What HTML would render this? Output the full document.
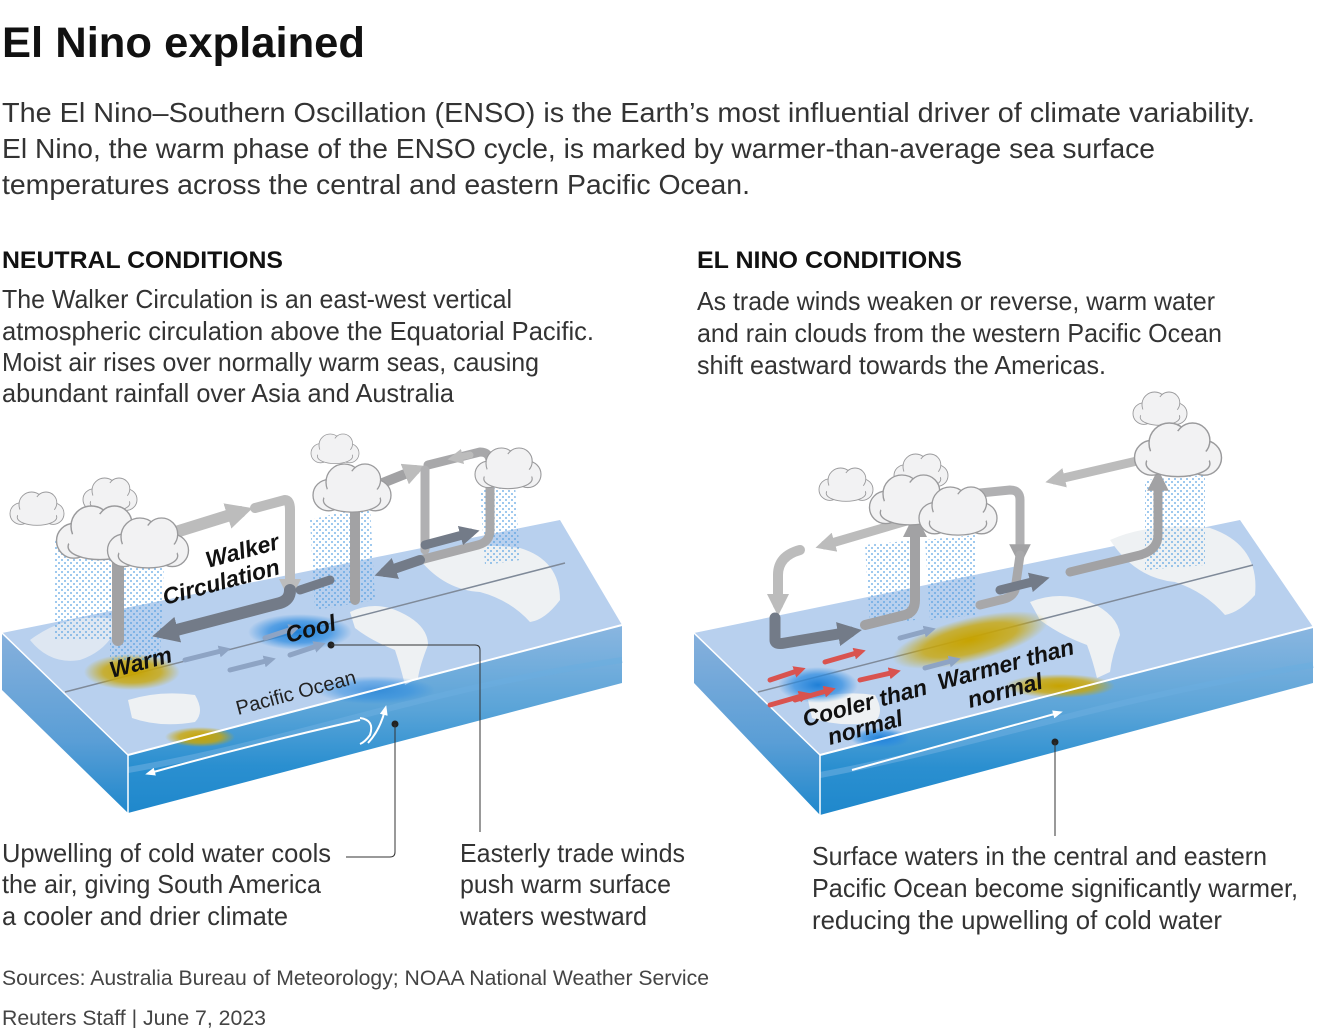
<!DOCTYPE html>
<html><head><meta charset="utf-8"><style>html,body{margin:0;padding:0;background:#fff}svg{display:block}</style></head>
<body>
<svg width="1320" height="1028" viewBox="0 0 1320 1028" xmlns="http://www.w3.org/2000/svg" font-family="Liberation Sans, sans-serif">
<defs>
<linearGradient id="front" x1="0" y1="0" x2="0" y2="1">
<stop offset="0" stop-color="#8ab6e0"/><stop offset="0.45" stop-color="#5aa4d8"/><stop offset="0.75" stop-color="#2a8fd0"/><stop offset="1" stop-color="#1f88cc"/></linearGradient>
<linearGradient id="side" x1="0" y1="0" x2="0" y2="1">
<stop offset="0" stop-color="#86b0dc"/><stop offset="0.6" stop-color="#5a9ed6"/><stop offset="1" stop-color="#1f88cc"/></linearGradient>
<radialGradient id="warm"><stop offset="0" stop-color="#c7a300"/><stop offset="0.6" stop-color="#c9a70a" stop-opacity="0.8"/><stop offset="1" stop-color="#c9a70a" stop-opacity="0"/></radialGradient>
<radialGradient id="cool"><stop offset="0" stop-color="#1f7fd6"/><stop offset="0.6" stop-color="#2a8ae0" stop-opacity="0.7"/><stop offset="1" stop-color="#2a8ae0" stop-opacity="0"/></radialGradient>
<pattern id="rain" width="6" height="6" patternUnits="userSpaceOnUse"><circle cx="2" cy="2" r="1" fill="#4a9ae0"/><circle cx="5" cy="5" r="1" fill="#4a9ae0"/></pattern>
<g id="cloud"><g fill="#f2f2f3" stroke="#9a9a9c" stroke-width="1">
<circle cx="-18" cy="4" r="12"/><circle cx="18" cy="4" r="12"/><circle cx="-6" cy="-6" r="14"/><circle cx="10" cy="-8" r="12"/><ellipse cx="0" cy="8" rx="22" ry="9"/></g>
<ellipse cx="0" cy="4" rx="22" ry="9" fill="#f2f2f3"/><circle cx="-6" cy="-4" r="12" fill="#f2f2f3"/><circle cx="10" cy="-6" r="10" fill="#f2f2f3"/></g>
<marker id="ahd" viewBox="0 0 10 10" refX="5" refY="5" markerWidth="2.2" markerHeight="2.2" orient="auto"><path d="M0,0L10,5L0,10z" fill="#737b88"/></marker>
<marker id="ahl" viewBox="0 0 10 10" refX="5" refY="5" markerWidth="2.2" markerHeight="2.2" orient="auto"><path d="M0,0L10,5L0,10z" fill="#bcbcbc"/></marker>
<marker id="ahm" viewBox="0 0 10 10" refX="5" refY="5" markerWidth="2.4" markerHeight="2.4" orient="auto"><path d="M0,0L10,5L0,10z" fill="#a2a2a4"/></marker>
<marker id="ahw" viewBox="0 0 10 10" refX="5" refY="5" markerWidth="5" markerHeight="5" orient="auto"><path d="M0,1L10,5L0,9z" fill="#fff"/></marker>
<marker id="ahb" viewBox="0 0 10 10" refX="5" refY="5" markerWidth="2.4" markerHeight="2.4" orient="auto"><path d="M0,0L10,5L0,10z" fill="#8ea4c4"/></marker>
<marker id="ahr" viewBox="0 0 10 10" refX="5" refY="5" markerWidth="2.4" markerHeight="2.4" orient="auto"><path d="M0,0L10,5L0,10z" fill="#d9534f"/></marker>
</defs>

<g fill="#111">
<text x="2" y="57" font-size="43" font-weight="bold" textLength="363" lengthAdjust="spacingAndGlyphs">El Nino explained</text>
<g font-size="28" fill="#333">
<text x="2" y="122" textLength="1253" lengthAdjust="spacingAndGlyphs">The El Nino–Southern Oscillation (ENSO) is the Earth’s most influential driver of climate variability.</text>
<text x="2" y="158" textLength="1153" lengthAdjust="spacingAndGlyphs">El Nino, the warm phase of the ENSO cycle, is marked by warmer-than-average sea surface</text>
<text x="2" y="194" textLength="748" lengthAdjust="spacingAndGlyphs">temperatures across the central and eastern Pacific Ocean.</text>
</g>
<text x="2" y="268" font-size="24" font-weight="bold" textLength="281" lengthAdjust="spacingAndGlyphs">NEUTRAL CONDITIONS</text>
<text x="697" y="268" font-size="24" font-weight="bold" textLength="265" lengthAdjust="spacingAndGlyphs">EL NINO CONDITIONS</text>
<g font-size="26" fill="#333">
<text x="2" y="308" textLength="510" lengthAdjust="spacingAndGlyphs">The Walker Circulation is an east-west vertical</text>
<text x="2" y="340" textLength="592" lengthAdjust="spacingAndGlyphs">atmospheric circulation above the Equatorial Pacific.</text>
<text x="2" y="371" textLength="537" lengthAdjust="spacingAndGlyphs">Moist air rises over normally warm seas, causing</text>
<text x="2" y="402" textLength="452" lengthAdjust="spacingAndGlyphs">abundant rainfall over Asia and Australia</text>
<text x="697" y="310" textLength="518" lengthAdjust="spacingAndGlyphs">As trade winds weaken or reverse, warm water</text>
<text x="697" y="342" textLength="525" lengthAdjust="spacingAndGlyphs">and rain clouds from the western Pacific Ocean</text>
<text x="697" y="374" textLength="409" lengthAdjust="spacingAndGlyphs">shift eastward towards the Americas.</text>
<text x="2" y="862" textLength="329" lengthAdjust="spacingAndGlyphs">Upwelling of cold water cools</text>
<text x="2" y="893" textLength="319" lengthAdjust="spacingAndGlyphs">the air, giving South America</text>
<text x="2" y="925" textLength="286" lengthAdjust="spacingAndGlyphs">a cooler and drier climate</text>
<text x="460" y="862" textLength="225" lengthAdjust="spacingAndGlyphs">Easterly trade winds</text>
<text x="460" y="893" textLength="211" lengthAdjust="spacingAndGlyphs">push warm surface</text>
<text x="460" y="925" textLength="187" lengthAdjust="spacingAndGlyphs">waters westward</text>
<text x="812" y="865" textLength="455" lengthAdjust="spacingAndGlyphs">Surface waters in the central and eastern</text>
<text x="812" y="897" textLength="486" lengthAdjust="spacingAndGlyphs">Pacific Ocean become significantly warmer,</text>
<text x="812" y="929" textLength="410" lengthAdjust="spacingAndGlyphs">reducing the upwelling of cold water</text>
</g>
<text x="2" y="985" font-size="21" fill="#444" textLength="707" lengthAdjust="spacingAndGlyphs">Sources: Australia Bureau of Meteorology; NOAA National Weather Service</text>
<text x="2" y="1025" font-size="21" fill="#444" textLength="264" lengthAdjust="spacingAndGlyphs">Reuters Staff  |  June 7, 2023</text>
</g>

<!-- LEFT BLOCK -->
<g>
<polygon points="2,633 128,755 128,813 2,690" fill="url(#side)"/>
<polygon points="128,755 622,625 622,683 128,813" fill="url(#front)"/>
<path d="M128,770 C300,740 420,690 622,660" stroke="#6aaee0" stroke-width="6" fill="none" opacity="0.6"/>
<polygon points="2,633 560,520 622,625 128,755" fill="#b8d0ee"/>
<path d="M350,612 Q375,600 400,612 Q428,625 428,645 Q420,665 418,678 L405,685 Q400,665 395,650 Q370,640 355,628z" fill="#eef1f3"/>
<path d="M128,700 Q160,690 195,695 Q205,712 195,722 Q160,728 132,718z" fill="#eef1f3"/>
<path d="M420,560 Q460,540 520,548 Q560,560 560,600 Q545,620 530,622 Q510,600 480,592 Q445,590 420,560z" fill="#eef1f3"/>
<path d="M30,640 Q70,610 120,620 Q110,650 80,660 Q50,665 30,640z" fill="#eef1f3" opacity="0.7"/>
<line x1="65" y1="692" x2="565" y2="563" stroke="#7f8a99" stroke-width="1.5"/>
<ellipse cx="132" cy="672" rx="48" ry="18" fill="url(#warm)"/>
<ellipse cx="200" cy="737" rx="35" ry="10" fill="url(#warm)"/>
<ellipse cx="300" cy="632" rx="52" ry="18" fill="url(#cool)"/>
<ellipse cx="375" cy="690" rx="60" ry="14" fill="url(#cool)" opacity="0.7"/>
<line x1="128" y1="755" x2="622" y2="625" stroke="#fff" stroke-width="2"/>
<line x1="2" y1="633" x2="128" y2="755" stroke="#fff" stroke-width="1.5"/>
<line x1="128" y1="755" x2="128" y2="813" stroke="#fff" stroke-width="1.5"/>
<path d="M360,720 Q250,745 150,773" stroke="#fff" stroke-width="2" fill="none" marker-end="url(#ahw)"/>
<path d="M360,718 Q375,720 370,735 Q365,742 360,744" stroke="#fff" stroke-width="2" fill="none"/>
<path d="M368,743 Q380,730 385,710" stroke="#fff" stroke-width="2" fill="none" marker-end="url(#ahw)"/>
<polygon points="55,540 110,540 112,640 55,640" fill="url(#rain)" opacity="0.7"/>
<polygon points="110,540 165,540 160,660 110,660" fill="url(#rain)" opacity="0.7"/>
<polygon points="310,520 370,505 375,600 315,610" fill="url(#rain)" opacity="0.7"/>
<polygon points="480,490 515,485 520,560 485,565" fill="url(#rain)" opacity="0.7"/>
<g fill="none" stroke-linecap="round" stroke-linejoin="round">
<path d="M118,550 L240,512" stroke="#bcbcbc" stroke-width="12" marker-end="url(#ahl)"/>
<path d="M255,508 L285,500 Q290,500 290,510 L290,590" stroke="#bcbcbc" stroke-width="10" marker-end="url(#ahl)"/>
<path d="M290,590 Q290,600 280,603 L165,633" stroke="#737b88" stroke-width="12" marker-end="url(#ahd)"/>
<path d="M118,640 L118,560" stroke="#a2a2a4" stroke-width="12"/>
<path d="M355,600 L355,505 Q355,490 370,488 L415,470" stroke="#a2a2a4" stroke-width="10" marker-end="url(#ahl)"/>
<path d="M428,465 L480,452 Q490,452 490,462 L490,530 Q490,542 478,545 L420,560" stroke="#a8a8aa" stroke-width="9"/>
<path d="M420,560 L385,572" stroke="#737b88" stroke-width="10" marker-end="url(#ahd)"/>
<path d="M425,550 L425,470" stroke="#b0b0b2" stroke-width="9"/>
<path d="M425,545 L470,533" stroke="#737b88" stroke-width="9" marker-end="url(#ahd)"/>
<path d="M470,455 L455,458" stroke="#bcbcbc" stroke-width="7" marker-end="url(#ahl)"/>
<path d="M300,590 L330,580" stroke="#737b88" stroke-width="9"/>
<path d="M185,660 L225,650" stroke="#8ea4c4" stroke-width="5" marker-end="url(#ahb)"/>
<path d="M265,638 L295,628" stroke="#8ea4c4" stroke-width="5" marker-end="url(#ahb)"/>
<path d="M230,670 L270,660" stroke="#8ea4c4" stroke-width="5" marker-end="url(#ahb)"/>
<path d="M290,655 L320,645" stroke="#8ea4c4" stroke-width="5" marker-end="url(#ahb)"/>
</g>
<use href="#cloud" transform="translate(37,510) scale(0.9)"/>
<use href="#cloud" transform="translate(110,496) scale(0.9)"/>
<use href="#cloud" transform="translate(100,535) scale(1.45)"/>
<use href="#cloud" transform="translate(148,545) scale(1.35)"/>
<use href="#cloud" transform="translate(335,450) scale(0.8)"/>
<use href="#cloud" transform="translate(352,490) scale(1.3)"/>
<use href="#cloud" transform="translate(508,470) scale(1.1)"/>
<g font-weight="bold" font-style="italic" fill="#111" font-size="23">
<text transform="translate(208,568) rotate(-15)">Walker</text>
<text transform="translate(165,605) rotate(-15)">Circulation</text>
<text transform="translate(288,643) rotate(-15)">Cool</text>
<text transform="translate(112,678) rotate(-15)">Warm</text>
</g>
<text transform="translate(238,715) rotate(-15)" font-size="20" fill="#222">Pacific Ocean</text>
<circle cx="331" cy="645" r="3.5" fill="#222"/>
<path d="M331,645 L475,645 Q480,645 480,650 L480,832" stroke="#333" stroke-width="1" fill="none"/>
<circle cx="395" cy="724" r="3.5" fill="#222"/>
<path d="M395,724 L395,852 Q395,857 390,857 L346,857" stroke="#333" stroke-width="1" fill="none"/>
</g>

<!-- RIGHT BLOCK -->
<g>
<polygon points="694,633 820,755 820,815 694,683" fill="url(#side)"/>
<polygon points="820,755 1313,627 1313,683 820,815" fill="url(#front)"/>
<path d="M820,775 C980,745 1100,700 1313,665" stroke="#6aaee0" stroke-width="6" fill="none" opacity="0.6"/>
<polygon points="694,633 1240,520 1313,627 820,755" fill="#b8d0ee"/>
<path d="M1030,602 Q1060,590 1090,602 Q1118,615 1120,635 Q1112,655 1110,672 L1097,678 Q1092,658 1087,645 Q1060,635 1040,620z" fill="#eef1f3"/>
<path d="M808,700 Q840,690 875,695 Q885,712 875,722 Q840,728 812,718z" fill="#eef1f3"/>
<path d="M1110,540 Q1150,522 1210,528 Q1260,545 1255,595 Q1240,612 1225,615 Q1205,592 1175,582 Q1135,578 1110,540z" fill="#eef1f3"/>
<line x1="758" y1="692" x2="1253" y2="565" stroke="#7f8a99" stroke-width="1.5"/>
<ellipse cx="970" cy="640" rx="80" ry="22" fill="url(#warm)" transform="rotate(-14 970 640)"/>
<ellipse cx="1060" cy="686" rx="55" ry="12" fill="url(#warm)"/>
<ellipse cx="818" cy="685" rx="40" ry="18" fill="url(#cool)"/>
<ellipse cx="880" cy="738" rx="30" ry="10" fill="url(#cool)"/>
<line x1="820" y1="755" x2="1313" y2="627" stroke="#fff" stroke-width="2"/>
<line x1="694" y1="633" x2="820" y2="755" stroke="#fff" stroke-width="1.5"/>
<line x1="820" y1="755" x2="820" y2="815" stroke="#fff" stroke-width="1.5"/>
<path d="M852,770 L1058,713" stroke="#fff" stroke-width="2" fill="none" marker-end="url(#ahw)"/>
<polygon points="865,545 915,540 915,620 870,625" fill="url(#rain)" opacity="0.7"/>
<polygon points="925,540 975,535 975,615 930,620" fill="url(#rain)" opacity="0.7"/>
<polygon points="1145,480 1205,475 1205,565 1145,570" fill="url(#rain)" opacity="0.7"/>
<g fill="none" stroke-linecap="round" stroke-linejoin="round">
<path d="M910,520 L825,545" stroke="#bcbcbc" stroke-width="9" marker-end="url(#ahl)"/>
<path d="M800,550 Q778,556 778,575 L778,605" stroke="#bcbcbc" stroke-width="10" marker-end="url(#ahl)"/>
<path d="M775,618 L775,640 Q775,645 785,643 L850,632" stroke="#737b88" stroke-width="11" marker-end="url(#ahd)"/>
<path d="M865,625 L905,615 Q915,612 915,600 L915,525" stroke="#a2a2a4" stroke-width="10" marker-end="url(#ahm)"/>
<path d="M910,500 L1010,490 Q1020,490 1020,500 L1020,555" stroke="#b0b0b2" stroke-width="9" marker-end="url(#ahm)"/>
<path d="M1020,555 L1015,590 Q1012,598 1000,600 L980,605" stroke="#a8a8aa" stroke-width="9"/>
<path d="M1000,590 L1040,580" stroke="#737b88" stroke-width="9" marker-end="url(#ahd)"/>
<path d="M1070,572 L1140,555 Q1158,550 1158,535 L1158,480" stroke="#a2a2a4" stroke-width="9" marker-end="url(#ahm)"/>
<path d="M1150,458 L1055,480" stroke="#bcbcbc" stroke-width="9" marker-end="url(#ahl)"/>
<path d="M770,680 L800,670" stroke="#d9534f" stroke-width="5" marker-end="url(#ahr)"/>
<path d="M825,662 L860,652" stroke="#d9534f" stroke-width="5" marker-end="url(#ahr)"/>
<path d="M770,705 L805,695" stroke="#d9534f" stroke-width="5" marker-end="url(#ahr)"/>
<path d="M860,680 L895,672" stroke="#d9534f" stroke-width="5" marker-end="url(#ahr)"/>
<path d="M795,700 L830,690" stroke="#d9534f" stroke-width="5" marker-end="url(#ahr)"/>
<path d="M900,638 L930,630" stroke="#8ea4c4" stroke-width="5" marker-end="url(#ahb)"/>
<path d="M925,668 L955,660" stroke="#8ea4c4" stroke-width="5" marker-end="url(#ahb)"/>
</g>
<use href="#cloud" transform="translate(846,486) scale(0.9)"/>
<use href="#cloud" transform="translate(921,472) scale(0.9)"/>
<use href="#cloud" transform="translate(910,502) scale(1.35)"/>
<use href="#cloud" transform="translate(958,513) scale(1.3)"/>
<use href="#cloud" transform="translate(1160,410) scale(0.9)"/>
<use href="#cloud" transform="translate(1178,452) scale(1.45)"/>
<g font-weight="bold" font-style="italic" fill="#111" font-size="23">
<text transform="translate(805,727) rotate(-15)">Cooler than</text>
<text transform="translate(830,745) rotate(-15)">normal</text>
<text transform="translate(940,690) rotate(-15)">Warmer than</text>
<text transform="translate(970,708) rotate(-15)">normal</text>
</g>
<circle cx="1055" cy="742" r="3.5" fill="#222"/>
<line x1="1055" y1="742" x2="1055" y2="836" stroke="#333" stroke-width="1"/>
</g>
</svg>
</body></html>
